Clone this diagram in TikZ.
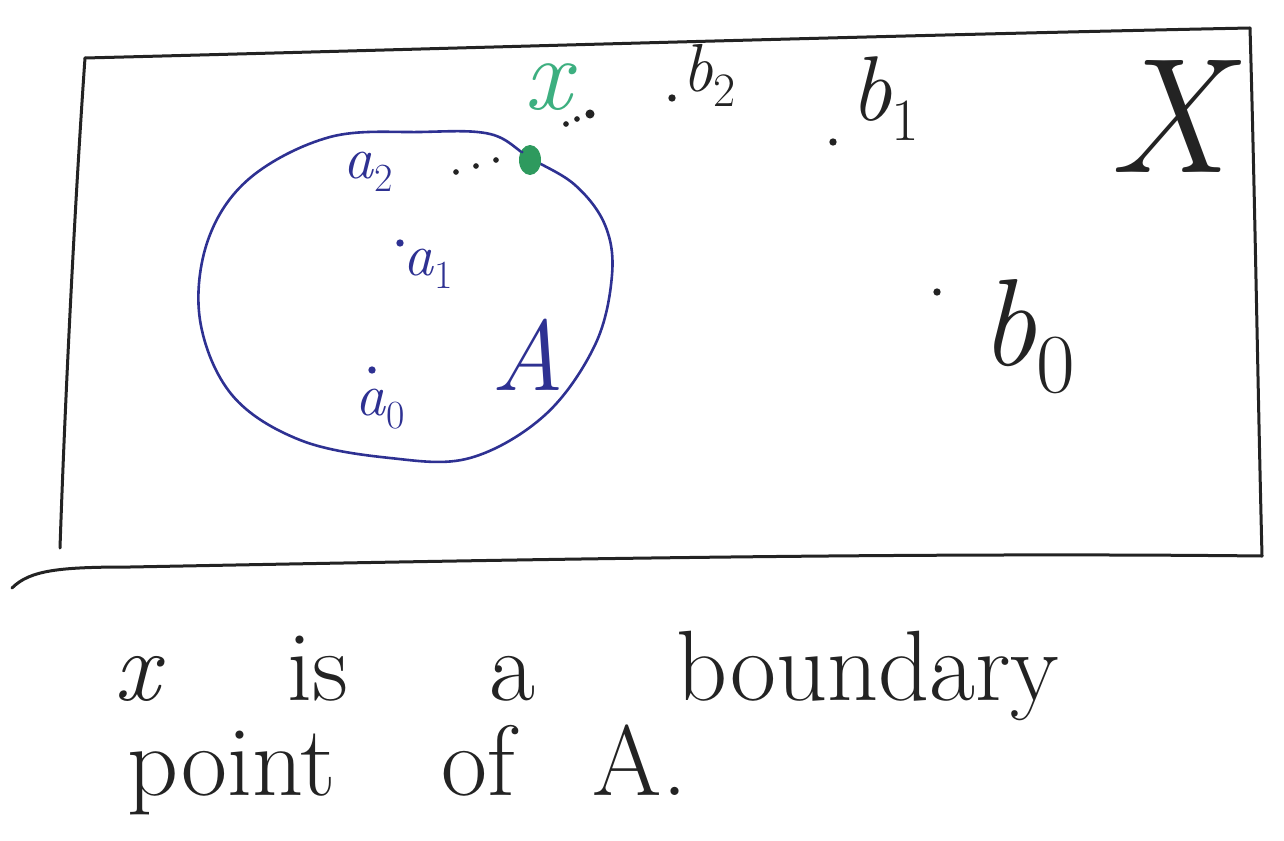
\documentclass[tikz,border=0pt]{standalone}
\usepackage{fontspec}
\usetikzlibrary{shapes.geometric}
\definecolor{pen}{HTML}{232323}
\definecolor{navy}{HTML}{2E3192}
\definecolor{teal}{HTML}{3DAF80}
\definecolor{dgreen}{HTML}{2E9A5E}
% italic letter with a smaller subscript: #1 letter, #2 index, #3 index size
\newcommand\vsub[3]{\textit{#1}\raisebox{-0.22em}{\fontsize{#3}{#3}\selectfont #2}}
\tikzset{
  pencil/.style={draw=pen, line width=1.5pt, line cap=round, line join=round},
  bluepen/.style={draw=navy, line width=1.3pt, line cap=round, line join=round},
  pt/.style={circle, fill=#1, inner sep=1.3pt},
  lbl/.style={text=#1, inner sep=0pt},
  capt/.style={text=pen, inner sep=0pt, font=\fontsize{50}{60}\selectfont},
}
\begin{document}
\begin{tikzpicture}[x=0.5pt, y=-0.5pt]
\useasboundingbox (0,0) rectangle (1284,840);
% space X (box)
\draw[pencil] (85,58) .. controls (400,50) and (900,35) .. (1250,28);
\draw[pencil] (1250,28) .. controls (1255,200) and (1258,400) .. (1262,556);
\draw[pencil] (85,58) .. controls (75,200) and (65,400) .. (60,548);
\draw[pencil] (12,588) .. controls (30,570) and (60,567) .. (130,567) .. controls (500,560) and (900,552) .. (1262,556);
% set A
\draw[bluepen] plot[smooth cycle, tension=0.6] coordinates {
  (330,137) (420,132) (490,134) (530,158) (575,185) (605,225) (612,275)
  (595,345) (545,415) (470,458) (390,458) (300,440) (232,395)
  (200,320) (208,240) (250,178)};
\node[lbl=navy, font=\fontsize{50}{60}\selectfont\itshape, anchor=base] (Alab) at (528,390) {A};
% points of A
\node[pt=navy] (a1pt) at (400,243) {};
\node[lbl=navy, font=\fontsize{30}{36}\selectfont, anchor=base west] (a1) at (403,275) {\vsub{a}{1}{20}};
\node[pt=navy] (a0pt) at (372,370) {};
\node[lbl=navy, font=\fontsize{30}{36}\selectfont, anchor=base west] (a0) at (355,415) {\vsub{a}{0}{20}};
\node[lbl=navy, font=\fontsize{30}{36}\selectfont, anchor=base west] (a2) at (343,178) {\vsub{a}{2}{20}};
\node[pt=pen, inner sep=1pt] (s1) at (456,172) {};
\node[pt=pen, inner sep=1pt] (s2) at (476,166) {};
\node[pt=pen, inner sep=1pt] (s3) at (496,160) {};
% boundary point x
\node[ellipse, fill=dgreen, minimum width=11pt, minimum height=15pt, inner sep=0pt] (xpt) at (530,160) {};
\fill[navy] (522,152) circle (1.5);
\node[lbl=teal, font=\fontsize{52}{60}\selectfont\itshape, anchor=base] (xlab) at (548,110) {x};
\node[pt=pen, inner sep=1pt] (t1) at (566,124) {};
\node[pt=pen, inner sep=1pt] (t2) at (577,119) {};
\node[pt=pen, inner sep=1.6pt] (t3) at (590,114) {};
% points outside A
\node[pt=pen] (b2pt) at (672,98) {};
\node[lbl=pen, font=\fontsize{34}{40}\selectfont, anchor=base west] (b2) at (682,92) {\vsub{b}{2}{24}};
\node[pt=pen] (b1pt) at (833,142) {};
\node[lbl=pen, font=\fontsize{46}{52}\selectfont, anchor=base west] (b1) at (850,120) {\vsub{b}{1}{30}};
\node[pt=pen] (b0pt) at (937,292) {};
\node[lbl=pen, font=\fontsize{62}{70}\selectfont, anchor=base west] (b0) at (980,365) {\vsub{b}{0}{42}};
% space label
\node[lbl=pen, font=\fontsize{82}{92}\selectfont\itshape, anchor=base] (Xlab) at (1168,172) {X};
% caption
\node[capt, anchor=base] (w1) at (140,700) {\textit{x}};
\node[capt, anchor=base] (w2) at (318,700) {is};
\node[capt, anchor=base] (w3) at (512,700) {a};
\node[capt, anchor=base] (w4) at (868,700) {boundary};
\node[capt, anchor=base] (w5) at (232,795) {point};
\node[capt, anchor=base] (w6) at (478,795) {of};
\node[capt, anchor=base] (w7) at (640,795) {A.};
\end{tikzpicture}
\end{document}
